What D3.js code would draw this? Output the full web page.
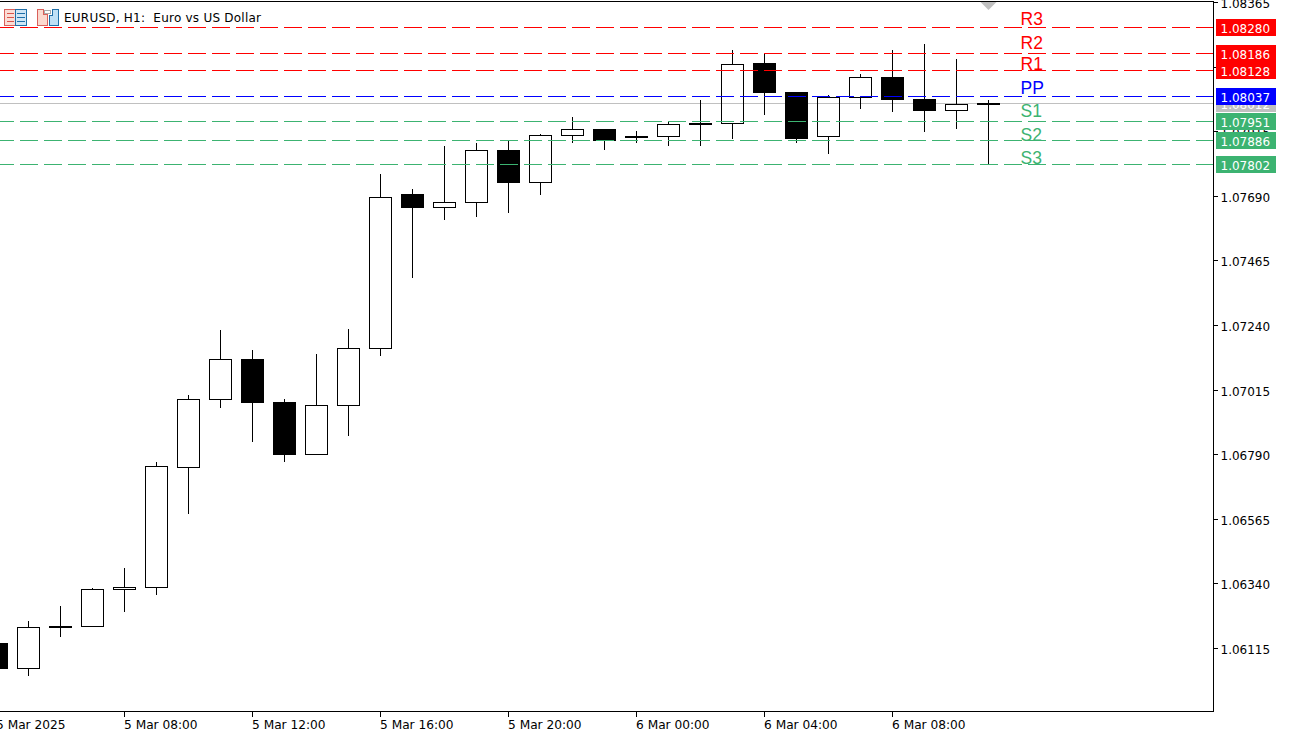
<!DOCTYPE html>
<html><head><meta charset="utf-8">
<style>html,body{margin:0;padding:0;background:#fff;overflow:hidden}svg{display:block}
text{font-family:"DejaVu Sans",sans-serif;font-size:12px;white-space:pre}</style>
<script src="https://cdn.jsdelivr.net/npm/d3@7/dist/d3.min.js"></script></head><body>
<div id="c"></div>
<script>
const title = "EURUSD, H1:  Euro vs US Dollar";
const opens  = [1.06132,1.06044,1.06188,1.06191,1.06321,1.06328,1.06745,1.06982,1.07121,1.06972,1.06790,1.06961,1.07159,1.07695,1.07651,1.07669,1.07849,1.07737,1.07902,1.07923,1.07895,1.07898,1.07940,1.07944,1.08152,1.08051,1.07898,1.08033,1.08103,1.08026,1.07989,1.08010];
const closes = [1.06046,1.06188,1.06191,1.06321,1.06328,1.06748,1.06982,1.07121,1.06972,1.06790,1.06961,1.07159,1.07686,1.07651,1.07669,1.07849,1.07737,1.07902,1.07923,1.07884,1.07898,1.07940,1.07944,1.08150,1.08051,1.07891,1.08033,1.08103,1.08026,1.07989,1.08010,1.08012];
const highs  = [1.06132,1.06212,1.06264,1.06328,1.06397,1.06766,1.06999,1.07226,1.07156,1.06985,1.07142,1.07229,1.07769,1.07716,1.07867,1.07877,1.07888,1.07909,1.07968,1.07926,1.07919,1.07951,1.08026,1.08201,1.08191,1.08054,1.08044,1.08117,1.08201,1.08222,1.08170,1.08026];
const lows   = [1.06046,1.06020,1.06156,1.06191,1.06244,1.06302,1.06585,1.06954,1.06835,1.06766,1.06790,1.06856,1.07135,1.07406,1.07609,1.07620,1.07634,1.07695,1.07877,1.07853,1.07877,1.07867,1.07867,1.07891,1.07975,1.07877,1.07839,1.07996,1.07985,1.07916,1.07926,1.07802];
const priceTicks = [1.08365,1.08140,1.07915,1.07690,1.07465,1.07240,1.07015,1.06790,1.06565,1.06340,1.06115];
const timeTickIdx = [0,4,8,12,16,20,24,28];
const timeTickLabels = ["5 Mar 2025","5 Mar 08:00","5 Mar 12:00","5 Mar 16:00","5 Mar 20:00","6 Mar 00:00","6 Mar 04:00","6 Mar 08:00"];
const levelNames  = ["R3","R2","R1","PP","S1","S2","S3"];
const levelValues = [1.08280,1.08186,1.08128,1.08037,1.07951,1.07886,1.07802];
const levelColors = ["#ff0000","#ff0000","#ff0000","#0000ff","#3cb371","#3cb371","#3cb371"];
const levelLabelPrices = [1.08285,1.08201,1.08128,1.08045,1.07964,1.07881,1.07801];
const lastPrice = 1.08012;

const W=1291,H=733,axisX=1213,axisY=711,lastIdx=31;
const x=d3.scaleLinear().domain([0,31]).range([-3.5,988.5]);
const y=d3.scaleLinear().domain([1.06115,1.08365]).range([648.5,2.5]);
const Row=p=>Math.floor(y(p)+0.1);
const Y=p=>Row(p)+0.5;
const fmt=d3.format(".5f");
const svg=d3.select("#c").append("svg").attr("width",W).attr("height",H);

// last price line (behind candles)
svg.append("line").attr("x1",0).attr("x2",axisX).attr("y1",Y(lastPrice)).attr("y2",Y(lastPrice)).attr("stroke","#c0c0c0").attr("shape-rendering","crispEdges");

// candles
const idx=d3.range(opens.length);
const g=svg.append("g").attr("shape-rendering","crispEdges");
const up=i=>closes[i]>=opens[i];
const bodyTop=i=>Y(Math.max(opens[i],closes[i])), bodyBot=i=>Y(Math.min(opens[i],closes[i]));
const cs=g.selectAll("g").data(idx).join("g");
cs.append("line").attr("x1",i=>x(i)).attr("x2",i=>x(i)).attr("y1",i=>Y(highs[i])).attr("y2",i=>bodyTop(i)).attr("stroke","#000");
cs.append("line").attr("x1",i=>x(i)).attr("x2",i=>x(i)).attr("y1",i=>bodyBot(i)).attr("y2",i=>Y(lows[i])).attr("stroke","#000");
cs.append("rect").attr("x",i=>x(i)-11).attr("width",22).attr("y",i=>bodyTop(i))
  .attr("height",i=>Math.max(1,bodyBot(i)-bodyTop(i)))
  .attr("fill",i=>up(i)?"none":"#000").attr("stroke","#000");

// levels
svg.append("g").attr("shape-rendering","crispEdges").selectAll("line").data(levelValues).join("line")
  .attr("x1",x(0)-0.5).attr("x2",axisX).attr("y1",d=>Y(d)).attr("y2",d=>Y(d))
  .attr("stroke",(d,i)=>levelColors[i]).attr("stroke-dasharray","18 6");
svg.append("g").selectAll("text").data(levelNames).join("text")
  .attr("x",1020.5).attr("y",(d,i)=>Row(levelLabelPrices[i])).text(d=>d)
  .style("font-family","'Liberation Sans',Arial,sans-serif").style("font-size","17.5px")
  .attr("fill",(d,i)=>levelColors[i]);

// axes
const ax=svg.append("g").attr("transform",`translate(${axisX+0.5},0)`).call(
  d3.axisRight(y).tickValues(priceTicks).tickFormat(fmt).tickSize(4).offset(0));
ax.select(".domain").remove();
ax.selectAll(".tick").attr("transform",d=>`translate(0,${Math.floor(y(d))+0.5})`);
ax.selectAll(".tick line").attr("stroke","#000").attr("shape-rendering","crispEdges");
ax.selectAll("text").attr("fill","#000").attr("x",7).attr("y",5.5).attr("dy",0).style("font-size","12px").style("font-family","'DejaVu Sans',sans-serif");
const bx=svg.append("g").attr("transform",`translate(0,${axisY+0.5})`).call(
  d3.axisBottom(x).tickValues(timeTickIdx).tickFormat((d,i)=>timeTickLabels[i]).tickSize(5).offset(0));
bx.select(".domain").remove();
bx.selectAll(".tick line").attr("stroke","#000").attr("shape-rendering","crispEdges");
bx.selectAll("text").attr("fill","#000").attr("text-anchor","start").attr("x",-0.5).attr("y",17.5).attr("dy",0).style("font-size","12.2px").style("font-family","'DejaVu Sans',sans-serif");
const fr=svg.append("g").attr("shape-rendering","crispEdges").attr("stroke","#000");
fr.append("line").attr("x1",0).attr("x2",axisX+1).attr("y1",1.5).attr("y2",1.5);
fr.append("line").attr("x1",axisX+0.5).attr("x2",axisX+0.5).attr("y1",1).attr("y2",axisY+1);
fr.append("line").attr("x1",0).attr("x2",axisX+1).attr("y1",axisY+0.5).attr("y2",axisY+0.5);

// last-bar marker
svg.append("path").attr("fill","#c0c0c0")
  .attr("d",`M${x(lastIdx)-8},2 L${x(lastIdx)+8},2 L${x(lastIdx)},10 Z`);

// price tags
const tags=[{v:lastPrice,c:"#c0c0c0"}].concat(levelValues.map((v,i)=>({v,c:levelColors[i]})));
const tg=svg.append("g").selectAll("g").data(tags).join("g");
tg.append("rect").attr("x",1216).attr("width",60).attr("height",17).attr("y",d=>Row(d.v)-8).attr("fill",d=>d.c).attr("shape-rendering","crispEdges");
tg.append("text").attr("x",1220.5).attr("y",d=>Row(d.v)+6).attr("fill","#fff").text(d=>fmt(d.v));

// header
svg.append("text").attr("x",64).attr("y",22).attr("fill","#000").attr("textLength",197).text(title);
const ic=svg.append("g").attr("shape-rendering","crispEdges");
ic.append("rect").attr("x",4.5).attr("y",9.5).attr("width",11).attr("height",16).attr("fill","#fbdcd5").attr("stroke","#d9605a");
ic.append("rect").attr("x",15.5).attr("y",9.5).attr("width",11).attr("height",16).attr("fill","#cfe6f6").attr("stroke","#1f6fa8");
[13.5,17.5,21.5].forEach(v=>{
  ic.append("line").attr("x1",7).attr("x2",14).attr("y1",v).attr("y2",v).attr("stroke","#d9534a");
  ic.append("line").attr("x1",17).attr("x2",25).attr("y1",v).attr("y2",v).attr("stroke","#1f6fa8");
});
const ic2=svg.append("g").attr("shape-rendering","crispEdges");
ic2.append("path").attr("d","M37.5,25.5V9.5H43.5V14.5H47.5V25.5Z").attr("fill","#fbd9cf").attr("stroke","#d9605a");
ic2.append("path").attr("d","M49.5,25.5V15.5H52.5V9.5H58.5V25.5Z").attr("fill","#bfe0f6").attr("stroke","#1f6fa8");
ic2.append("rect").attr("x",44.5).attr("y",10.5).attr("width",6).attr("height",3).attr("fill","#fff").attr("stroke","#aaa");
</script></body></html>
